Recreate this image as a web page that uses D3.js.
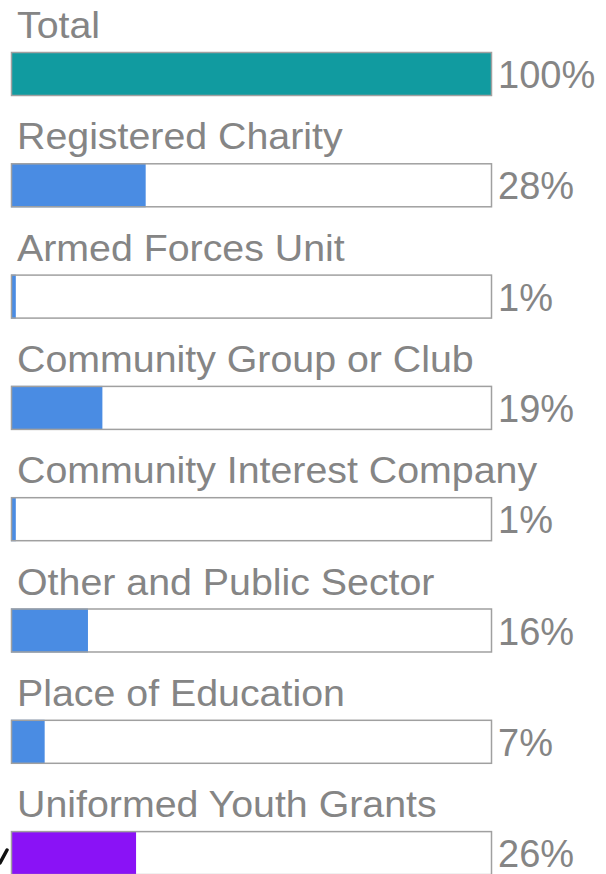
<!DOCTYPE html>
<html><head><meta charset="utf-8">
<script src="https://cdn.jsdelivr.net/npm/d3@7"></script>
<style>html,body{margin:0;padding:0;background:#fff;overflow:hidden}</style>
</head><body><svg id="c" width="606" height="874"></svg>
<script>
const categories = ["Total","Registered Charity","Armed Forces Unit","Community Group or Club","Community Interest Company","Other and Public Sector","Place of Education","Uniformed Youth Grants"];
const values = [100,28,1,19,1,16,7,26];
const colors = ["#119ba0","#4a8ce3","#4a8ce3","#4a8ce3","#4a8ce3","#4a8ce3","#4a8ce3","#8a12f6"];

const svg = d3.select("#c");
const x = d3.scaleLinear().domain([0,100]).range([11,492]);
const y = d3.scaleBand().domain(categories).range([52,875.1]).paddingInner(0.6047).paddingOuter(0);
const font = "'Liberation Sans', Arial, sans-serif";

const g = svg.selectAll("g.row").data(categories.map((c,i)=>({c,v:values[i],col:colors[i]}))).join("g").attr("class","row");

g.append("rect").attr("x",x(0)).attr("y",d=>y(d.c)).attr("width",x(100)-x(0)).attr("height",y.bandwidth())
  .attr("fill","#fff");
g.append("rect").attr("x",x(0)).attr("y",d=>y(d.c)).attr("width",d=>x(d.v)-x(0)).attr("height",y.bandwidth())
  .attr("fill",d=>d.col);
g.append("rect").attr("x",x(0)+0.5).attr("y",d=>y(d.c)+0.5).attr("width",x(100)-x(0)-1).attr("height",y.bandwidth()-1)
  .attr("fill","none").attr("stroke","#a0a0a0").attr("stroke-width",1.5);

g.append("text").attr("transform",d=>`translate(17,${y(d.c)-14}) scale(1.063,1)`).text(d=>d.c)
  .attr("font-family",font).attr("font-size",37).attr("fill","#858585");
g.append("text").attr("x",x(100)+6).attr("y",d=>y(d.c)+36).text(d=>d.v+"%")
  .attr("font-family",font).attr("font-size",38).attr("fill","#858585");

// stray pen mark at lower-left
svg.append("path").attr("d","M0,863 L7,850").attr("stroke","#111").attr("stroke-width",3.5).attr("stroke-linecap","round");
</script></body></html>
